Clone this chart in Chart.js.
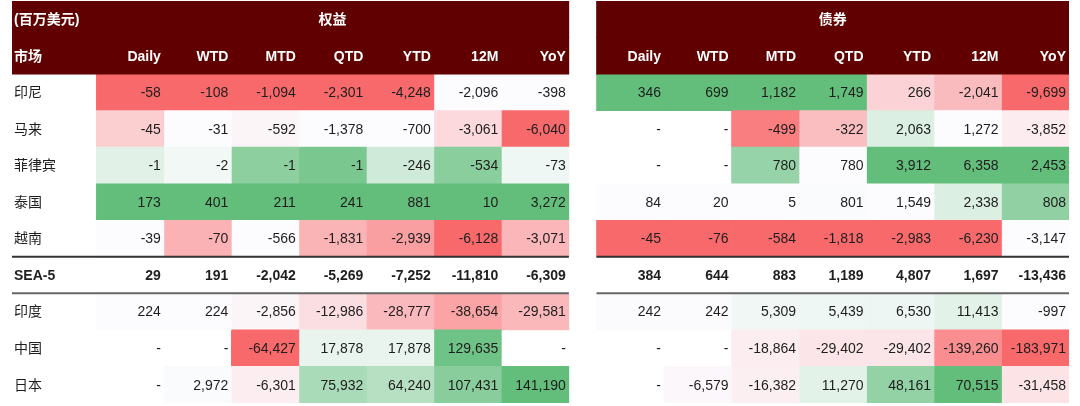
<!DOCTYPE html>
<html>
<head>
<meta charset="utf-8">
<script src="https://cdn.jsdelivr.net/npm/chart.js@4.4.1/dist/chart.umd.min.js"></script>
<style>
html,body{margin:0;padding:0;background:#ffffff;}
#wrap{width:1080px;height:406px;}
</style>
</head>
<body>
<div id="wrap"><canvas id="c" width="1080" height="406"></canvas></div>
<script>
// ---------------- DATA ----------------
const unitLabel = '(百万美元)';
const marketLabel = '市场';
const groupNames = ['权益', '债券'];
const periods = ['Daily', 'WTD', 'MTD', 'QTD', 'YTD', '12M', 'YoY'];
const markets = ['印尼', '马来', '菲律宾', '泰国', '越南', 'SEA-5', '印度', '中国', '日本'];
// null = "-"
const equityIndonesia   = [-58, -108, -1094, -2301, -4248, -2096, -398];
const equityMalaysia    = [-45, -31, -592, -1378, -700, -3061, -6040];
const equityPhilippines = [-1, -2, -1, -1, -246, -534, -73];
const equityThailand    = [173, 401, 211, 241, 881, 10, 3272];
const equityVietnam     = [-39, -70, -566, -1831, -2939, -6128, -3071];
const equitySEA5        = [29, 191, -2042, -5269, -7252, -11810, -6309];
const equityIndia       = [224, 224, -2856, -12986, -28777, -38654, -29581];
const equityChina       = [null, null, -64427, 17878, 17878, 129635, null];
const equityJapan       = [null, 2972, -6301, 75932, 64240, 107431, 141190];

const bondIndonesia   = [346, 699, 1182, 1749, 266, -2041, -9699];
const bondMalaysia    = [null, null, -499, -322, 2063, 1272, -3852];
const bondPhilippines = [null, null, 780, 780, 3912, 6358, 2453];
const bondThailand    = [84, 20, 5, 801, 1549, 2338, 808];
const bondVietnam     = [-45, -76, -584, -1818, -2983, -6230, -3147];
const bondSEA5        = [384, 644, 883, 1189, 4807, 1697, -13436];
const bondIndia       = [242, 242, 5309, 5439, 6530, 11413, -997];
const bondChina       = [null, null, -18864, -29402, -29402, -139260, -183971];
const bondJapan       = [null, -6579, -16382, 11270, 48161, 70515, -31458];

const equityRows = [equityIndonesia, equityMalaysia, equityPhilippines, equityThailand, equityVietnam, equitySEA5, equityIndia, equityChina, equityJapan];
const bondRows   = [bondIndonesia, bondMalaysia, bondPhilippines, bondThailand, bondVietnam, bondSEA5, bondIndia, bondChina, bondJapan];

// ---------------- LAYOUT / STYLE ----------------
const LABEL_W = 1.25;   // label column width in column units
const GAP = 0.41;       // gap between the two tables
const NCOL = periods.length;
const EQ_START = LABEL_W;
const BD_START = LABEL_W + NCOL + GAP;
const X_MAX = BD_START + NCOL;
const HEADER_BG = '#600000';
const RED = [248, 105, 107], WHITE = [252, 252, 255], GREEN = [99, 190, 123];
const FONT = "'Liberation Sans', Arial, 'Noto Sans CJK SC', sans-serif";
const SEA_IDX = markets.indexOf('SEA-5');
// colour groups: rows 0-4 scaled per column, rows 6-8 scaled as a block
const topGroup = [0, 1, 2, 3, 4];
const bottomGroup = [6, 7, 8];

function percentile(arr, p) {
  const s = arr.slice().sort((a, b) => a - b);
  const r = p * (s.length - 1);
  const lo = Math.floor(r), hi = Math.ceil(r);
  return s[lo] + (s[hi] - s[lo]) * (r - lo);
}
function mix(a, b, t) {
  return 'rgb(' + a.map((v, i) => Math.round(v + (b[i] - v) * t)).join(',') + ')';
}
function scaleColor(v, vals) {
  const mn = Math.min(...vals), mx = Math.max(...vals), md = percentile(vals, 0.5);
  if (v <= md) {
    const t = md === mn ? 1 : (v - mn) / (md - mn);
    return mix(RED, WHITE, t);
  }
  const t = mx === md ? 0 : (v - md) / (mx - md);
  return mix(WHITE, GREEN, t);
}
function colorGrid(rows) {
  const grid = rows.map(r => r.map(() => 'rgba(0,0,0,0)'));
  for (let c = 0; c < NCOL; c++) {
    const vals = topGroup.map(r => rows[r][c]).filter(v => v !== null);
    topGroup.forEach(r => { const v = rows[r][c]; if (v !== null) grid[r][c] = scaleColor(v, vals); });
  }
  const bvals = [];
  bottomGroup.forEach(r => rows[r].forEach(v => { if (v !== null) bvals.push(v); }));
  bottomGroup.forEach(r => rows[r].forEach((v, c) => { if (v !== null) grid[r][c] = scaleColor(v, bvals); }));
  return grid;
}
const eqColors = colorGrid(equityRows);
const bdColors = colorGrid(bondRows);

const yLabels = ['h1', 'h2'].concat(markets);

function headerDataset(start) {
  return {
    data: yLabels.map((_, i) => i < 2 ? [start, start === 0 ? EQ_START + NCOL : BD_START + NCOL] : null),
    backgroundColor: HEADER_BG
  };
}
const datasets = [headerDataset(0), headerDataset(BD_START)];
[[equityRows, eqColors, EQ_START], [bondRows, bdColors, BD_START]].forEach(([rows, colors, start]) => {
  for (let c = 0; c < NCOL; c++) {
    datasets.push({
      data: yLabels.map((_, i) => i < 2 ? null : [start + c, start + c + 1]),
      backgroundColor: yLabels.map((_, i) => i < 2 ? 'rgba(0,0,0,0)' : colors[i - 2][c])
    });
  }
});

function fmt(v) { return v === null ? '-' : v.toLocaleString('en-US'); }

const textPlugin = {
  id: 'tableText',
  afterDatasetsDraw(chart) {
    const ctx = chart.ctx, xs = chart.scales.x, ys = chart.scales.y;
    const X = v => xs.getPixelForValue(v);
    const Y = i => ys.getPixelForValue(i) + 1;
    const half = (ys.getPixelForValue(1) - ys.getPixelForValue(0)) / 2;
    ctx.save();
    ctx.textBaseline = 'middle';
    ctx.fillStyle = '#ffffff';
    ctx.font = 'bold 14px ' + FONT;
    ctx.textAlign = 'left';
    ctx.fillText(unitLabel, X(0) + 2, Y(0));
    ctx.textAlign = 'center';
    ctx.fillText(groupNames[0], X(EQ_START + NCOL / 2), Y(0));
    ctx.fillText(groupNames[1], X(BD_START + NCOL / 2), Y(0));
    ctx.textAlign = 'left';
    ctx.fillText(marketLabel, X(0) + 2, Y(1));
    ctx.textAlign = 'right';
    [EQ_START, BD_START].forEach(s => periods.forEach((p, c) => ctx.fillText(p, X(s + c + 1) - 3, Y(1))));
    ctx.fillStyle = '#1e1e1e';
    markets.forEach((m, r) => {
      const bold = r === SEA_IDX;
      ctx.font = (bold ? 'bold ' : '') + '14px ' + FONT;
      ctx.textAlign = 'left';
      ctx.fillText(m, X(0) + 2, Y(r + 2));
      ctx.textAlign = 'right';
      for (let c = 0; c < NCOL; c++) {
        ctx.fillText(fmt(equityRows[r][c]), X(EQ_START + c + 1) - 3, Y(r + 2));
        ctx.fillText(fmt(bondRows[r][c]), X(BD_START + c + 1) - 3, Y(r + 2));
      }
    });
    const yc = ys.getPixelForValue(SEA_IDX + 2);
    [[yc - half, '#333333'], [yc + half, '#666666']].forEach(([yy, col]) => {
      ctx.strokeStyle = col;
      ctx.lineWidth = 2;
      ctx.beginPath();
      ctx.moveTo(X(0), yy); ctx.lineTo(X(EQ_START + NCOL), yy);
      ctx.moveTo(X(BD_START), yy); ctx.lineTo(X(BD_START + NCOL), yy);
      ctx.stroke();
    });
    ctx.restore();
  }
};

new Chart(document.getElementById('c'), {
  type: 'bar',
  data: { labels: yLabels, datasets: datasets },
  options: {
    responsive: false,
    animation: false,
    devicePixelRatio: 1,
    indexAxis: 'y',
    layout: { padding: { left: 12, right: 11, top: 1, bottom: 3 } },
    datasets: { bar: { grouped: false, barPercentage: 1, categoryPercentage: 1, borderWidth: 0 } },
    scales: {
      x: { type: 'linear', min: 0, max: X_MAX, display: false },
      y: { type: 'category', display: false, offset: true }
    },
    plugins: { legend: { display: false }, tooltip: { enabled: false } }
  },
  plugins: [textPlugin]
});
</script>
</body>
</html>
